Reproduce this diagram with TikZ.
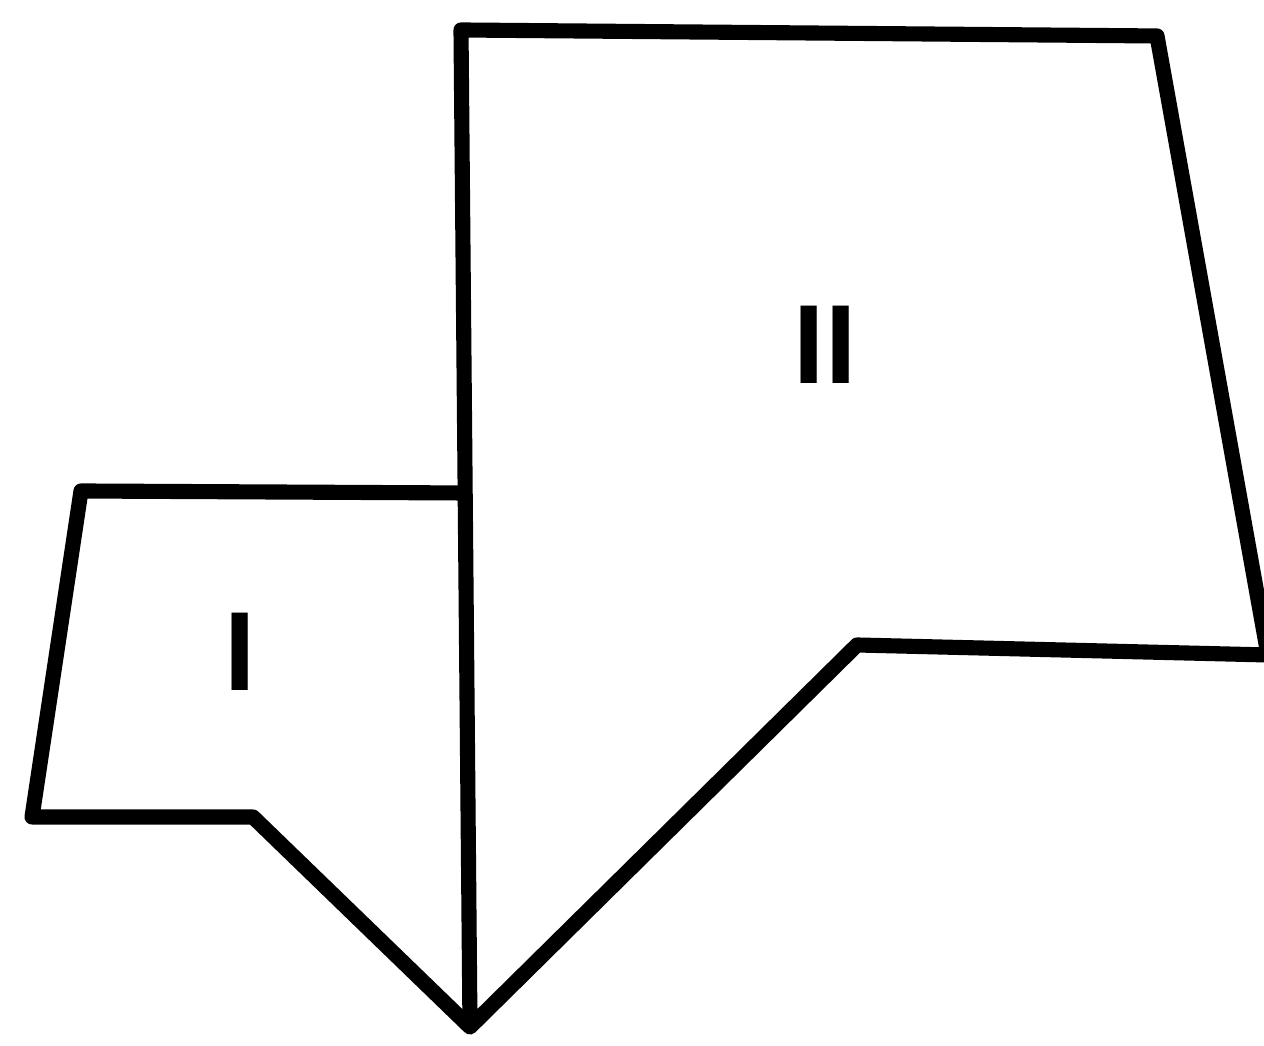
\documentclass[tikz,border=0pt]{standalone}
\usepackage{fontspec}
\setsansfont{Liberation Sans}
\usepackage{tikz}

\begin{document}
\begin{tikzpicture}[line width=4.3pt, line join=round]
  \useasboundingbox (0,0) rectangle (12.64,10.46);
  \clip (0,0) rectangle (12.64,10.46);
  \draw (4.61,10.16) -- (11.57,10.10) -- (12.68,3.91) -- (8.57,4.01) -- (4.70,0.19) -- cycle;
  \draw (4.63,5.53) -- (0.81,5.55) -- (0.32,2.29) -- (2.53,2.29) -- (4.70,0.19);
  \node (one) at (2.40,3.94) {\sffamily\bfseries\fontsize{32}{32}\selectfont I};
  \node (two) at (8.25,7.01) {\sffamily\bfseries\fontsize{32}{32}\selectfont II};
\end{tikzpicture}
\end{document}
